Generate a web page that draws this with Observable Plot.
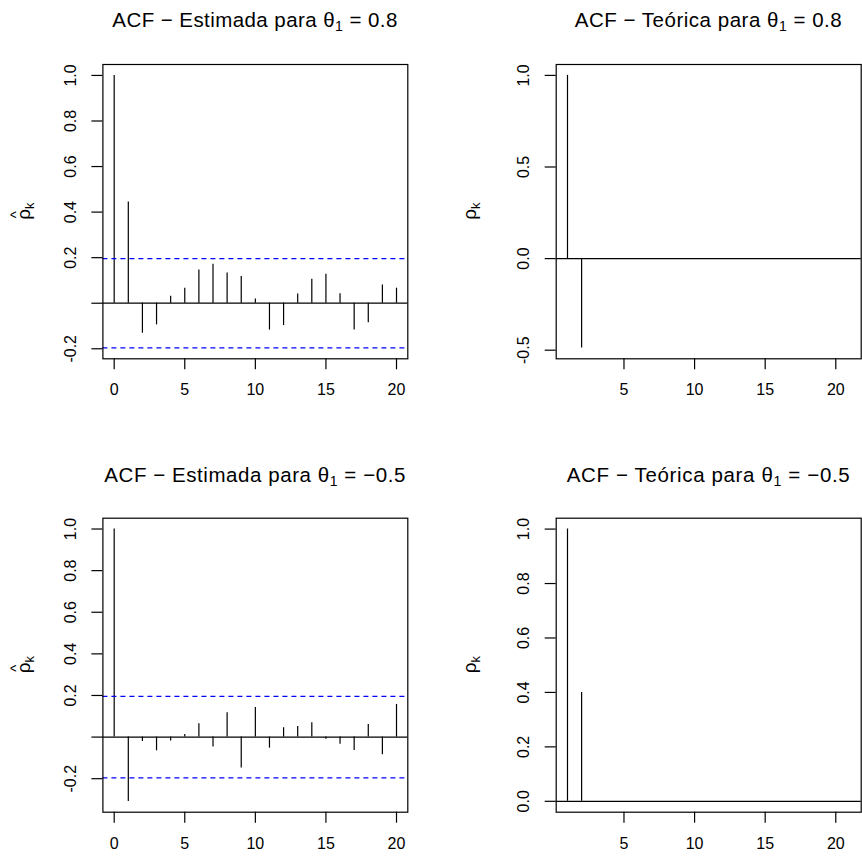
<!DOCTYPE html>
<html><head><meta charset="utf-8">
<script src="https://cdn.jsdelivr.net/npm/d3@7"></script>
<script src="https://cdn.jsdelivr.net/npm/@observablehq/plot@0.6"></script>
<style>
html,body{margin:0;padding:0;background:#fff;}
#root{position:relative;width:862px;height:857px;overflow:hidden;background:#fff;font-family:"Liberation Sans",Arial,Helvetica,sans-serif;}
#root > svg{position:absolute;}
</style></head><body><div id="root"></div>
<script>
// ---- data ----
const lagsEst = [0,1,2,3,4,5,6,7,8,9,10,11,12,13,14,15,16,17,18,19,20];
const acfEst08 = [1, 0.444, -0.132, -0.095, 0.031, 0.066, 0.146, 0.171, 0.133, 0.117, 0.018, -0.118, -0.098, 0.041, 0.105, 0.127, 0.042, -0.118, -0.086, 0.080, 0.066];
const acfEstM05 = [1, -0.309, -0.021, -0.066, -0.019, 0.013, 0.064, -0.048, 0.117, -0.149, 0.142, -0.053, 0.045, 0.051, 0.069, -0.010, -0.035, -0.064, 0.061, -0.085, 0.157];
const ciBound = 0.196;
const lagsTeo = [1,2,3,4,5,6,7,8,9,10,11,12,13,14,15,16,17,18,19,20,21];
const acfTeo08 = [1, -0.488, 0,0,0,0,0,0,0,0,0,0,0,0,0,0,0,0,0,0,0];
const acfTeoM05 = [1, 0.4, 0,0,0,0,0,0,0,0,0,0,0,0,0,0,0,0,0,0,0];
const xTicksEst = [0,5,10,15,20];
const xTicksTeo = [5,10,15,20];
const yTicksEst = [-0.2,0,0.2,0.4,0.6,0.8,1.0];
const yTicksTeo08 = [-0.5,0,0.5,1.0];
const yTicksTeoM05 = [0,0.2,0.4,0.6,0.8,1.0];
const titles = [
  {kind:"Estimada", val:"0.8"},
  {kind:"Teórica", val:"0.8"},
  {kind:"Estimada", val:"−0.5"},
  {kind:"Teórica", val:"−0.5"}
];

const root = document.getElementById("root");
const FONT = '"Liberation Sans",Arial,Helvetica,sans-serif';

function panel(o) {
  const data = o.lags.map((l,i)=>({lag:l, value:o.values[i]}));
  const marks = [
    Plot.ruleX(data, {x:"lag", y1:0, y2:"value", stroke:"black", strokeWidth:1.2}),
    Plot.ruleY([0], {stroke:"black", strokeWidth:1.2})
  ];
  if (o.ci != null) marks.push(Plot.ruleY([o.ci, -o.ci], {stroke:"#0000ff", strokeDasharray:"5,4", strokeWidth:1.2}));
  marks.push(Plot.frame({stroke:"black", strokeWidth:1.2}));
  marks.push(Plot.axisX({ticks:o.xTicks, tickSize:11, tickPadding:14, tickFormat:d=>String(d), label:null, strokeWidth:1.2, fontSize:16, fontFamily:FONT}));
  marks.push(Plot.axisY({ticks:o.yTicks, tickSize:11, tickPadding:16, tickRotate:-90, tickFormat:o.yFormat, label:null, strokeWidth:1.2, fontSize:16, fontFamily:FONT}));
  const svg = Plot.plot({
    width:o.width, height:o.height,
    marginLeft:o.ml, marginRight:o.mr, marginTop:o.mt, marginBottom:o.mb,
    x:{domain:o.xDomain}, y:{domain:o.yDomain},
    style:{background:"white", fontSize:"16px", fontFamily:FONT, color:"black", overflow:"visible"},
    marks
  });
  svg.style.left = o.left + "px";
  svg.style.top = o.top + "px";
  root.appendChild(svg);
}

const fmtEst = d => d === 0 ? "" : d.toFixed(1);
const fmt1 = d => d.toFixed(1);

panel({left:0, top:0, width:431, height:428, ml:102.4, mr:23.7, mt:64, mb:69.7,
  xDomain:[-0.8,20.8], yDomain:[-0.244,1.048], xTicks:xTicksEst, yTicks:yTicksEst, yFormat:fmtEst,
  lags:lagsEst, values:acfEst08, ci:ciBound});
panel({left:431, top:0, width:431, height:428, ml:124.7, mr:1.3, mt:64, mb:69.7,
  xDomain:[0.2,21.8], yDomain:[-0.547,1.0595], xTicks:xTicksTeo, yTicks:yTicksTeo08, yFormat:fmt1,
  lags:lagsTeo, values:acfTeo08});
panel({left:0, top:428, width:431, height:429, ml:102.4, mr:23.7, mt:89.7, mb:45.3,
  xDomain:[-0.8,20.8], yDomain:[-0.361,1.052], xTicks:xTicksEst, yTicks:yTicksEst, yFormat:fmtEst,
  lags:lagsEst, values:acfEstM05, ci:ciBound});
panel({left:431, top:428, width:431, height:429, ml:124.7, mr:1.3, mt:89.7, mb:45.3,
  xDomain:[0.2,21.8], yDomain:[-0.04,1.04], xTicks:xTicksTeo, yTicks:yTicksTeoM05, yFormat:fmt1,
  lags:lagsTeo, values:acfTeoM05});

// ---- overlay text: titles & y labels ----
const ov = d3.select(root).append("svg").attr("width",862).attr("height",857)
  .style("left","0px").style("top","0px").style("pointer-events","none")
  .style("font-family", FONT);

function title(cx, baseline, t, len) {
  const el = ov.append("text").attr("x",cx).attr("y",baseline).attr("text-anchor","middle")
    .attr("font-size",20.5).attr("fill","black")
    .attr("textLength",len).attr("lengthAdjust","spacing");
  el.append("tspan").text(`ACF − ${t.kind} para θ`);
  el.append("tspan").attr("font-size","14px").attr("dy",4).text("1");
  el.append("tspan").attr("dy",-4).text(` = ${t.val}`);
}
title(254.8, 26.7, titles[0], 285);
title(708.2, 26.7, titles[1], 267);
title(254.8, 481.7, titles[2], 301);
title(708.2, 481.7, titles[3], 283);

function ylab(x, cy, hat) {
  const g = ov.append("g").attr("transform",`translate(${x},${cy}) rotate(-90)`);
  const el = g.append("text").attr("text-anchor","middle").attr("font-size",19).attr("fill","black");
  el.append("tspan").text("ρ");
  el.append("tspan").attr("font-size","13px").attr("dy",4).text("k");
  if (hat) {
    g.append("text").attr("x",-3.5).attr("y",-9).attr("text-anchor","middle")
      .attr("font-size",15).attr("fill","black").text("^");
  }
}
ylab(30, 211.2, true);
ylab(476, 211.2, false);
ylab(30, 664.7, true);
ylab(476, 664.7, false);
</script>
</body></html>
